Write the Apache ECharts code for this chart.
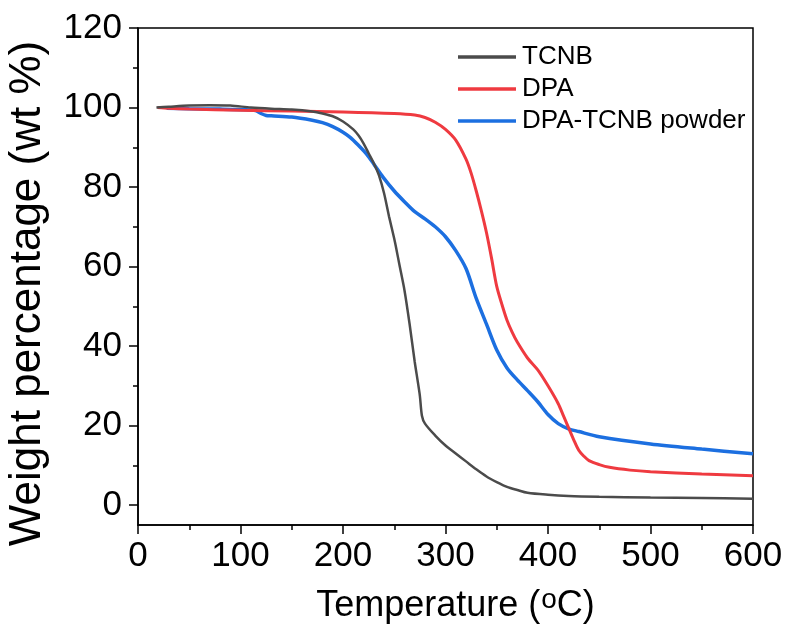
<!DOCTYPE html>
<html>
<head>
<meta charset="utf-8">
<script src="https://cdn.jsdelivr.net/npm/echarts@6/dist/echarts.min.js"></script>
<style>html,body{margin:0;padding:0;background:#fff}#c{width:789px;height:627px}</style>
</head>
<body>
<div id="c"></div>
<script>
var seriesNames = ['TCNB', 'DPA', 'DPA-TCNB powder'];
var colors = ['#4b4b4b', '#ef3a40', '#1c6fe0'];

var tcnbT = [18,30,50,70,90,110,130,150,170,180,190,200,210,215,220,225,230,235,240,245,250,252,255,260,265,270,273,275,277,280,290,300,310,320,330,340,350,360,370,380,400,420,450,500,550,600];
var tcnbW = [100.0,100.2,100.5,100.6,100.5,100.0,99.7,99.5,99.0,98.5,97.8,96.5,94.5,93,91,88.5,86,83,78.5,72.5,67,64.5,60.5,54,45.5,36,31,27.5,22.5,20.5,17.5,15,13,11,9,7.2,5.8,4.6,3.8,3.1,2.6,2.3,2.1,1.9,1.8,1.6];

var dpaT = [19,30,50,100,150,200,250,270,280,290,300,310,320,325,330,335,340,345,350,355,360,365,370,380,390,400,410,415,420,425,430,435,440,450,460,480,500,550,600];
var dpaW = [100.0,99.8,99.6,99.3,99.1,98.9,98.5,98.1,97.5,96.3,94.5,91.8,87,83.5,79,74,68.5,62,55,50.5,46.5,43.5,41,37,34,30,25.5,22.5,19.5,16.5,13.8,12.3,11.2,10.2,9.5,8.8,8.4,7.8,7.4];

var blendT = [28,50,80,110,115,120,125,130,150,170,180,190,200,207,215,223,230,239,250,260,270,280,290,300,310,320,330,340,350,360,370,380,390,400,410,420,430,450,500,550,600];
var blendW = [99.8,99.7,99.6,99.4,99.2,98.5,98.0,97.9,97.6,96.8,96.2,95.2,93.8,92.5,90.5,88.3,85.8,82.5,79,76.3,73.8,72,70,67.5,64,59.5,52,45.5,39,34.5,31.5,28.8,26,22.8,20.5,19.2,18.5,17.2,15.4,14.1,12.9];

var yMajorTicks = [0,20,40,60,80,100,120];
var yMinorTicks = [10,30,50,70,90,110];

function pairs(xs, ys){ return xs.map(function(x,i){ return [x, ys[i]]; }); }

var FONT = 'Liberation Sans';
var chart = echarts.init(document.getElementById('c'), null, {renderer:'canvas'});
var widths = [2.5, 3, 3.5];
var datas = [pairs(tcnbT,tcnbW), pairs(dpaT,dpaW), pairs(blendT,blendW)];

chart.setOption({
  animation: false,
  backgroundColor: '#fff',
  grid: {left: 138, right: 36, top: 28, bottom: 102, show: true, borderColor: '#000', borderWidth: 1.5, containLabel: false, outerBoundsMode: 'none'},
  legend: {
    orient: 'vertical', left: 453, top: 39, itemWidth: 58, itemHeight: 3.5, itemGap: 6, icon: 'rect',
    textStyle: {fontFamily: FONT, fontSize: 26, color: '#000', padding: [0,0,0,1]},
    data: seriesNames
  },
  xAxis: {
    type: 'value', min: 0, max: 600, interval: 100,
    name: 'Temperature ({s|o}C)', nameLocation: 'middle', nameGap: 61,
    nameTextStyle: {fontFamily: FONT, fontSize: 36, color: '#000', padding: [0, 0, 0, 20], rich: {s: {fontFamily: FONT, fontSize: 28, color:'#000', verticalAlign: 'top', padding:[0,0,13,1]}}},
    axisLine: {show: true, onZero: false, lineStyle: {color: '#000', width: 1.5}},
    axisTick: {show: true, length: 9, lineStyle: {color: '#000', width: 1.5}},
    minorTick: {show: true, splitNumber: 2, length: 5, lineStyle: {color: '#000', width: 1.5}},
    axisLabel: {fontFamily: FONT, fontSize: 35, color: '#000', margin: 14},
    splitLine: {show: false}
  },
  yAxis: [{
    type: 'value', min: -5, max: 120,
    name: 'Weight percentage (wt %)', nameLocation: 'middle', nameGap: 88, nameRotate: 90,
    nameTextStyle: {fontFamily: FONT, fontSize: 44, color: '#000', padding: [0, 34, 0, 0]},
    axisLine: {show: true, onZero: false, lineStyle: {color: '#000', width: 1.5}},
    axisTick: {show: true, length: 9, customValues: yMajorTicks, lineStyle: {color: '#000', width: 1.5}},
    axisLabel: {fontFamily: FONT, fontSize: 35, color: '#000', margin: 16, customValues: yMajorTicks},
    splitLine: {show: false}
  }, {
    type: 'value', min: -5, max: 120, position: 'left',
    axisLine: {show: false},
    axisTick: {show: true, length: 5, customValues: yMinorTicks, lineStyle: {color: '#000', width: 1.5}},
    axisLabel: {show: false},
    splitLine: {show: false}
  }],
  series: seriesNames.map(function(n, i){
    return {
      name: n, type: 'line', data: datas[i], symbol: 'none', smooth: 0.3,
      yAxisIndex: 0, z: 3 - i,
      lineStyle: {color: colors[i], width: widths[i]},
      itemStyle: {color: colors[i]}
    };
  })
});
</script>
</body>
</html>
